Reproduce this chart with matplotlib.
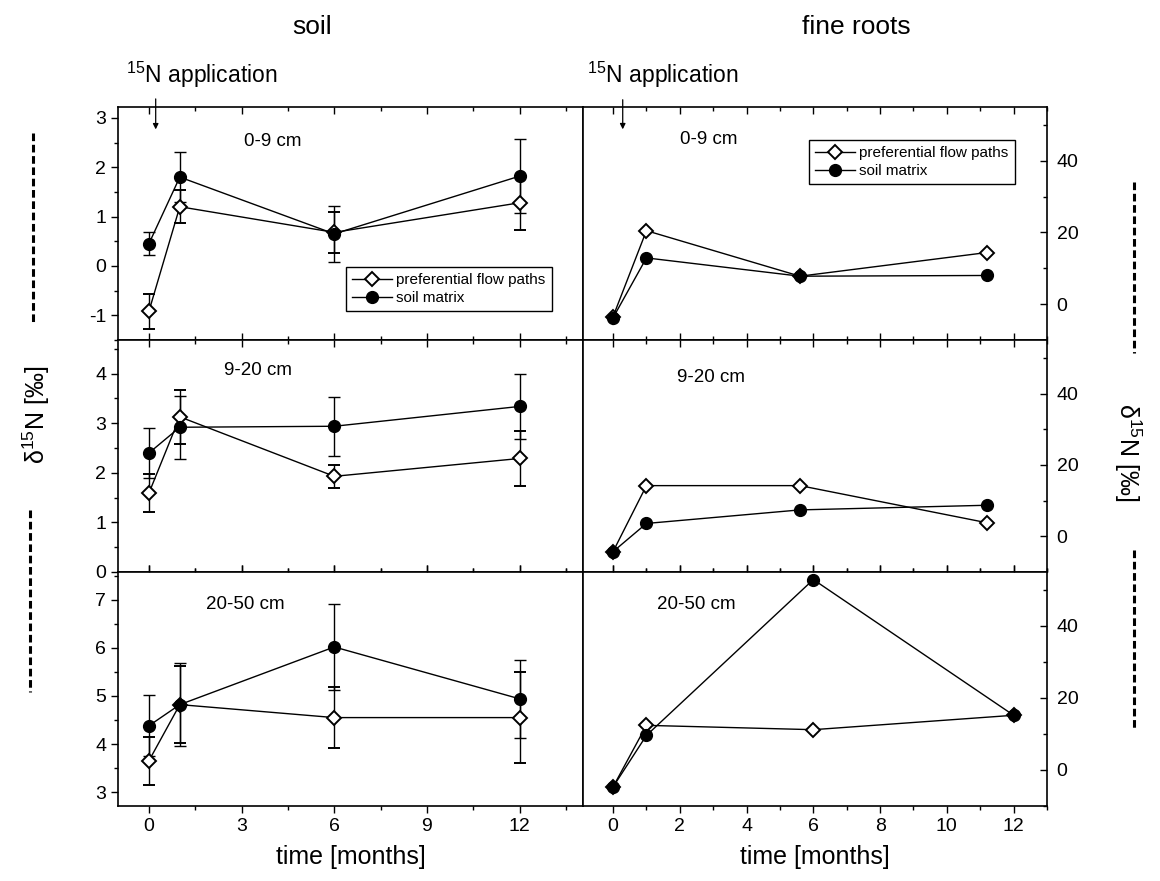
import numpy as np
import matplotlib
matplotlib.use('Agg')
import matplotlib.pyplot as plt
from matplotlib.lines import Line2D
from matplotlib.ticker import MultipleLocator

plt.rcParams['font.family'] = ['Liberation Sans', 'DejaVu Sans']
plt.rcParams['mathtext.fontset'] = 'custom'
plt.rcParams['mathtext.rm'] = 'Liberation Sans'
plt.rcParams['mathtext.it'] = 'Liberation Sans:italic'
plt.rcParams['axes.unicode_minus'] = False

# ---- data: soil (left column) ----
soil_t = [0, 1, 6, 12]
depths = ['0-9 cm', '9-20 cm', '20-50 cm']

soil_pref = [[-0.92, 1.20, 0.68, 1.28],
             [1.59, 3.13, 1.93, 2.29],
             [3.65, 4.82, 4.55, 4.55]]
soil_pref_err = [[0.36, 0.33, 0.42, 0.55],
                 [0.38, 0.54, 0.23, 0.56],
                 [0.50, 0.80, 0.63, 0.95]]
soil_mat = [[0.45, 1.80, 0.65, 1.82],
            [2.40, 2.92, 2.94, 3.34],
            [4.38, 4.82, 6.02, 4.94]]
soil_mat_err = [[0.23, 0.50, 0.57, 0.75],
                [0.50, 0.64, 0.60, 0.65],
                [0.63, 0.87, 0.89, 0.81]]

# ---- data: fine roots (right column) ----
root_t = [[0, 1, 5.6, 11.2],
          [0, 1, 5.6, 11.2],
          [0, 1, 6, 12]]
root_pref = [[-3.5, 20.5, 7.8, 14.4],
             [-4.3, 14.2, 14.2, 3.8],
             [-4.7, 12.4, 11.2, 15.2]]
root_mat = [[-3.8, 12.9, 7.8, 8.0],
            [-4.3, 3.6, 7.4, 8.7],
            [-4.7, 9.6, 52.9, 15.2]]

soil_ylims = [(-1.5, 3.22), (0, 4.68), (2.71, 7.58)]
root_ylim = (-10, 55)

fig = plt.figure(figsize=(11.6, 8.81), dpi=100)
W, H = 1160., 881.
xl, xm, xr = 118, 583, 1047
rows = [(107, 340), (340, 572), (572, 806)]

def fx(p):
    return p / W

def fy(p):
    return 1 - p / H

lab_left = [(0.333, 0.85), (0.30, 0.87), (0.273, 0.86)]
lab_right = [(0.27, 0.86), (0.276, 0.84), (0.244, 0.86)]

mk_d = dict(marker='D', mfc='white', mec='k', mew=1.4, ms=7.5)
mk_o = dict(marker='o', mfc='k', mec='k', ms=8.5)

# legend handles: line + marker only
leg_handles = [Line2D([], [], color='k', lw=1, **mk_d),
               Line2D([], [], color='k', lw=1, **mk_o)]
leg_labels = ['preferential flow paths', 'soil matrix']
leg_kw = dict(loc='upper left', borderaxespad=0, fancybox=False, edgecolor='k',
              framealpha=1, fontsize=11, handlelength=2.6, handletextpad=0.3,
              borderpad=0.4, labelspacing=0.25)

for i in range(3):
    top, bot = rows[i]
    # soil panel
    ax = fig.add_axes([fx(xl), fy(bot), fx(xm - xl), (bot - top) / H])
    ax.errorbar(soil_t, soil_pref[i], yerr=soil_pref_err[i], color='k', lw=1,
                elinewidth=1, capsize=4.2, capthick=1, **mk_d)
    ax.errorbar(soil_t, soil_mat[i], yerr=soil_mat_err[i], color='k', lw=1,
                elinewidth=1, capsize=4.2, capthick=1, **mk_o)
    ax.set_xlim(-1, 14.05)
    ax.set_ylim(*soil_ylims[i])
    ax.xaxis.set_major_locator(MultipleLocator(3))
    ax.xaxis.set_minor_locator(MultipleLocator(1.5))
    ax.yaxis.set_major_locator(MultipleLocator(1))
    ax.yaxis.set_minor_locator(MultipleLocator(0.5))
    ax.tick_params(axis='y', which='both', left=True, right=True, direction='out', labelsize=14)
    for t in ax.yaxis.get_major_ticks() + ax.yaxis.get_minor_ticks():
        t.tick2line.set_marker(matplotlib.lines.TICKLEFT)
    ax.tick_params(axis='x', which='both', top=True, direction='in', labelsize=14)
    ax.tick_params(axis='both', which='major', length=5, width=1)
    ax.tick_params(axis='both', which='minor', length=3, width=1)
    ax.text(*lab_left[i], depths[i], transform=ax.transAxes, ha='center', va='center', fontsize=13.5)
    if i < 2:
        ax.tick_params(axis='x', labelbottom=False)
    else:
        ax.tick_params(axis='x', which='both', bottom=True, direction='out')
        ax.set_xlabel('time [months]', fontsize=18, labelpad=7)
    if i == 0:
        ax.legend(leg_handles, leg_labels, bbox_to_anchor=(0.49, 0.313), **leg_kw)
        ax.annotate('', xy=(0.22, 2.71), xytext=(0.22, 3.44), annotation_clip=False,
                    arrowprops=dict(arrowstyle='-|>', color='k', lw=0.9, mutation_scale=8))
    for s in ax.spines.values():
        s.set_linewidth(1.2)

    # fine roots panel
    ax2 = fig.add_axes([fx(xm), fy(bot), fx(xr - xm), (bot - top) / H])
    ax2.plot(root_t[i], root_pref[i], color='k', lw=1, **mk_d)
    ax2.plot(root_t[i], root_mat[i], color='k', lw=1, **mk_o)
    ax2.set_xlim(-0.9, 13)
    ax2.set_ylim(*root_ylim)
    ax2.xaxis.set_major_locator(MultipleLocator(2))
    ax2.xaxis.set_minor_locator(MultipleLocator(1))
    ax2.yaxis.set_major_locator(MultipleLocator(20))
    ax2.yaxis.set_minor_locator(MultipleLocator(10))
    ax2.tick_params(axis='y', which='both', left=False, right=True, labelleft=False,
                    labelright=True, direction='in', labelsize=14, pad=7)
    ax2.tick_params(axis='x', which='both', top=True, direction='in', labelsize=14)
    ax2.tick_params(axis='both', which='major', length=5, width=1)
    ax2.tick_params(axis='both', which='minor', length=3, width=1)
    ax2.text(*lab_right[i], depths[i], transform=ax2.transAxes, ha='center', va='center', fontsize=13.5)
    if i < 2:
        ax2.tick_params(axis='x', labelbottom=False)
    else:
        ax2.tick_params(axis='x', which='both', bottom=True, direction='out')
        ax2.set_xlabel('time [months]', fontsize=18, labelpad=7)
    if i == 0:
        ax2.legend(leg_handles, leg_labels, bbox_to_anchor=(0.487, 0.858), **leg_kw)
        ax2.annotate('', xy=(0.29, 48), xytext=(0.29, 57.8), annotation_clip=False,
                     arrowprops=dict(arrowstyle='-|>', color='k', lw=0.9, mutation_scale=8))
    for s in ax2.spines.values():
        s.set_linewidth(1.2)

# column titles and application notes
fig.text(fx(312), fy(27), 'soil', ha='center', va='center', fontsize=19)
fig.text(fx(856), fy(27), 'fine roots', ha='center', va='center', fontsize=19)
fig.text(fx(126), fy(75), '$^{15}$N application', ha='left', va='center', fontsize=16.5)
fig.text(fx(587), fy(75), '$^{15}$N application', ha='left', va='center', fontsize=16.5)

# y labels with dashed guide lines
fig.text(fx(36), fy(415), 'δ$^{15}$N [‰]', rotation=90, ha='center', va='center', fontsize=18)
fig.text(fx(1128), fy(452), 'δ$^{15}$N [‰]', rotation=-90, ha='center', va='center', fontsize=18)
for xp, y0, y1 in [(33, 133, 323), (30, 510, 692), (1134, 182, 353), (1134, 550, 728)]:
    fig.add_artist(Line2D([fx(xp), fx(xp)], [fy(y0), fy(y1)], color='k', lw=2.2,
                          dashes=(2.5, 1.2), transform=fig.transFigure))

plt.savefig('out.png', dpi=100)
